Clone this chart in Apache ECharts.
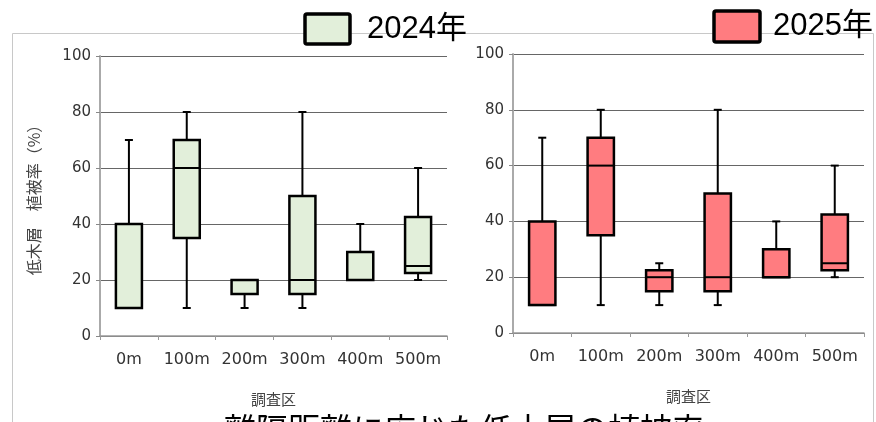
<!DOCTYPE html>
<html>
<head>
<meta charset="utf-8">
<script src="https://cdn.jsdelivr.net/npm/echarts@6/dist/echarts.min.js"></script>
<style>
  html, body { margin: 0; padding: 0; background: #fff; }
  #main { width: 876px; height: 422px; }
</style>
</head>
<body>
<div id="main"></div>
<script>
// 調査区
var categories = ['0m', '100m', '200m', '300m', '400m', '500m'];
// 箱ひげ: [最小, 第1四分位, 中央値, 第3四分位, 最大]
var box2024 = [
  [10, 10, 10, 40, 70],
  [10, 35, 60, 70, 80],
  [10, 15, 20, 20, 20],
  [10, 15, 20, 50, 80],
  [20, 20, 20, 30, 40],
  [20, 22.5, 25, 42.5, 60]
];
var box2025 = [
  [10, 10, 10, 40, 70],
  [10, 35, 60, 70, 80],
  [10, 15, 20, 22.5, 25],
  [10, 15, 20, 50, 80],
  [20, 20, 20, 30, 40],
  [20, 22.5, 25, 42.5, 60]
];
var yTicks = [0, 20, 40, 60, 80, 100];

var font = '"DejaVu Sans", Verdana, sans-serif';
var cjk = '"Noto Sans CJK JP", sans-serif';
var color2024 = '#E2EFDA';
var color2025 = '#FF7C80';

// 箱ひげを描く（capは短い横線）
function makeRender(fill){
	return function(params, api){
		var x = api.value(0);
		var lo = api.coord([x, api.value(1)]);
		var q1 = api.coord([x, api.value(2)]);
		var md = api.coord([x, api.value(3)]);
		var q3 = api.coord([x, api.value(4)]);
		var hi = api.coord([x, api.value(5)]);
		var bw = api.size([1, 0])[0] * 0.45;
		var cx = lo[0];
		var cap = 4;
		var line = {stroke: '#000', lineWidth: 2};
		var kids = [];
		if (hi[1] < q3[1]) {
			kids.push({type: 'line', shape: {x1: cx, y1: hi[1], x2: cx, y2: q3[1]}, style: line});
			kids.push({type: 'line', shape: {x1: cx - cap, y1: hi[1], x2: cx + cap, y2: hi[1]}, style: line});
		}
		if (lo[1] > q1[1]) {
			kids.push({type: 'line', shape: {x1: cx, y1: q1[1], x2: cx, y2: lo[1]}, style: line});
			kids.push({type: 'line', shape: {x1: cx - cap, y1: lo[1], x2: cx + cap, y2: lo[1]}, style: line});
		}
		kids.push({
			type: 'rect',
			shape: {x: cx - bw / 2, y: q3[1], width: bw, height: q1[1] - q3[1]},
			style: {fill: fill, stroke: '#000', lineWidth: 2.5}
		});
		kids.push({type: 'line', shape: {x1: cx - bw / 2, y1: md[1], x2: cx + bw / 2, y2: md[1]}, style: {stroke: '#000', lineWidth: 2}});
		return {type: 'group', children: kids};
	};
}

function toData(rows){
	var out = [];
	for (var i = 0; i < rows.length; i++) {
		out.push([i].concat(rows[i]));
	}
	return out;
}

function xAxisOpt(idx){
	return {
		type: 'category',
		gridIndex: idx,
		data: categories,
		boundaryGap: true,
		name: '調査区',
		nameLocation: 'middle',
		nameGap: 56,
		nameTextStyle: {fontFamily: cjk, fontSize: 15, color: '#444'},
		axisLine: {lineStyle: {color: '#999', width: 1.5}},
		axisTick: {show: true, length: 4, interval: 0, lineStyle: {color: '#999'}},
		axisLabel: {fontFamily: font, fontSize: 16, color: '#333', margin: 16, interval: 0}
	};
}

function yAxisOpt(idx, named){
	return {
		type: 'value',
		gridIndex: idx,
		min: yTicks[0],
		max: yTicks[yTicks.length - 1],
		interval: 20,
		name: named ? '低木層　植被率（%）' : '',
		nameLocation: 'middle',
		nameRotate: 90,
		nameGap: 58,
		nameTextStyle: {fontFamily: cjk, fontSize: 16, color: '#444'},
		axisLine: {show: true, lineStyle: {color: '#aaa', width: 2}},
		axisTick: {show: true, length: 4, lineStyle: {color: '#888'}},
		axisLabel: {fontFamily: font, fontSize: 15, color: '#333', margin: 9},
		splitLine: {show: true, lineStyle: {color: '#666', width: 1}}
	};
}

var option = {
	backgroundColor: '#fff',
	animation: false,
	title: {
		text: '離隔距離に応じた低木層の植被率',
		left: 219,
		top: 408,
		textStyle: {fontFamily: cjk, fontSize: 32, fontWeight: 'normal', color: '#000'}
	},
	grid: [
		{left: 100, top: 56, width: 347, height: 280},
		{left: 513, top: 54, width: 351, height: 279}
	],
	xAxis: [xAxisOpt(0), xAxisOpt(1)],
	yAxis: [yAxisOpt(0, true), yAxisOpt(1, false)],
	graphic: [
		{type: 'polyline', silent: true, z: 0,
		 shape: {points: [[12.5, 422], [12.5, 33.5], [873.5, 33.5], [873.5, 422]]},
		 style: {fill: null, stroke: '#c8c8c8', lineWidth: 1}},
		{type: 'rect', shape: {x: 305, y: 14, width: 45, height: 30, r: 2},
		 style: {fill: color2024, stroke: '#000', lineWidth: 3.5}},
		{type: 'text', x: 367, y: 29,
		 style: {text: '2024年', fill: '#000', font: '31px "Liberation Sans", "Noto Sans CJK JP", sans-serif', textVerticalAlign: 'middle'}},
		{type: 'rect', shape: {x: 714, y: 11, width: 46, height: 31, r: 2},
		 style: {fill: color2025, stroke: '#000', lineWidth: 3.5}},
		{type: 'text', x: 773, y: 26,
		 style: {text: '2025年', fill: '#000', font: '31px "Liberation Sans", "Noto Sans CJK JP", sans-serif', textVerticalAlign: 'middle'}}
	],
	series: [
		{
			name: '2024年',
			type: 'custom',
			xAxisIndex: 0,
			yAxisIndex: 0,
			renderItem: makeRender(color2024),
			encode: {x: 0, y: [1, 2, 3, 4, 5]},
			data: toData(box2024)
		},
		{
			name: '2025年',
			type: 'custom',
			xAxisIndex: 1,
			yAxisIndex: 1,
			renderItem: makeRender(color2025),
			encode: {x: 0, y: [1, 2, 3, 4, 5]},
			data: toData(box2025)
		}
	]
};

var myChart = echarts.init(document.getElementById('main'));
myChart.setOption(option);
</script>
</body>
</html>
